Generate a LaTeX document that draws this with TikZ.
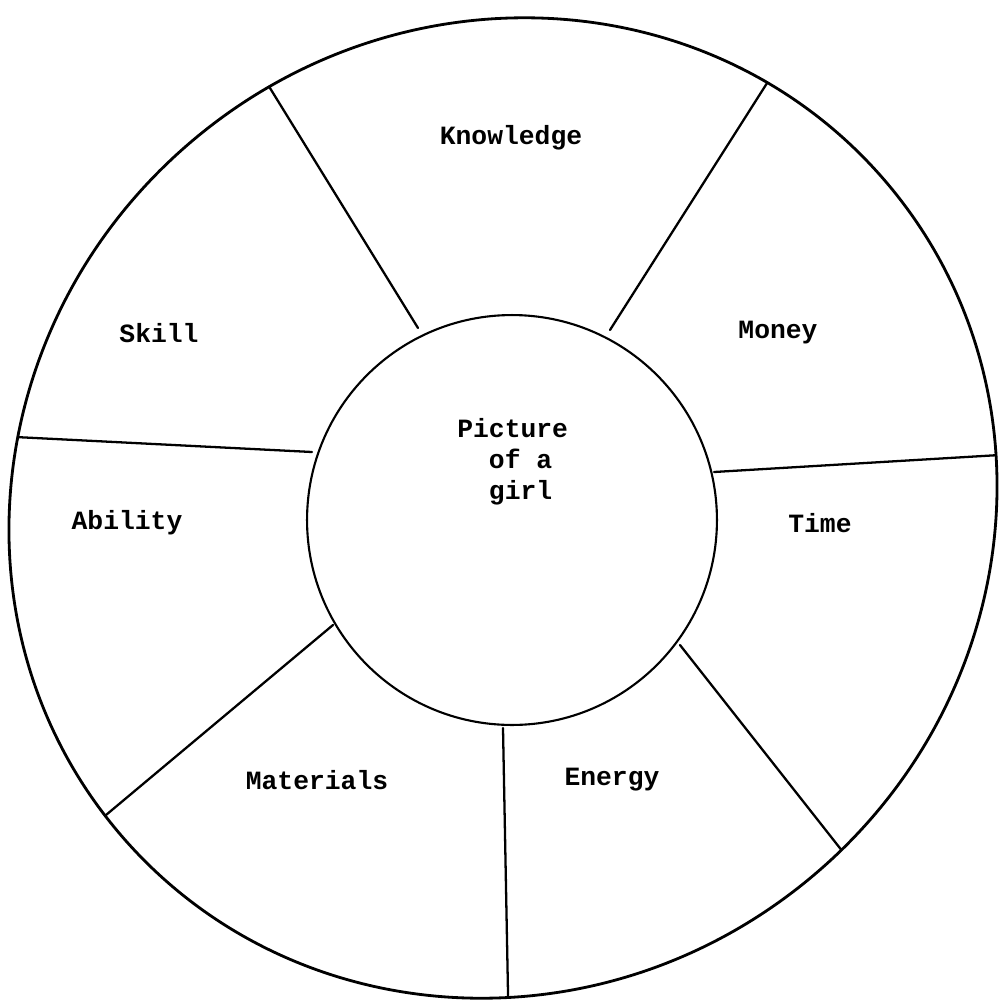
\documentclass[tikz,border=0pt]{standalone}
\usepackage{fontspec}
\setmonofont{Liberation Mono}
\usetikzlibrary{calc,intersections}
\begin{document}
\begin{tikzpicture}[x=0.02cm,y=-0.02cm,
  lab/.style={font=\ttfamily\bfseries\fontsize{15}{17.6}\selectfont, inner sep=0pt},
  spoke/.style={line width=1.3pt, line cap=round},
  rim/.style={line width=1.6pt}]
\useasboundingbox (0,0) rectangle (1000,1002);
% outer wheel (slightly oval, tilted)
\coordinate (oc) at (503,508);
\draw[rim, name path=rimp, rotate around={40:(oc)}] (oc) ellipse [x radius=503, y radius=481];
% hub
\node[circle, draw, line width=1.2pt, minimum size=8.2cm, inner sep=0pt] (hub) at (512,520) {};
% spoke directions
\coordinate (i1) at (418,328); \coordinate (d1) at (270,88);
\coordinate (i2) at (610,330); \coordinate (d2) at (769,80);
\coordinate (i3) at (714,472); \coordinate (d3) at (1000,455);
\coordinate (i4) at (680,645); \coordinate (d4) at (843,852);
\coordinate (i5) at (503,728); \coordinate (d5) at (508,994);
\coordinate (i6) at (333,625); \coordinate (d6) at (106,815);
\coordinate (i7) at (312,452); \coordinate (d7) at (15,437);
\foreach \k in {1,...,7} {
  \path[name path=s\k] (i\k) -- ($(i\k)!1.3!(d\k)$);
  \path[name intersections={of=rimp and s\k, by={o\k}}];
  \draw[spoke] (i\k) -- (o\k);
}
% labels
\node[lab] (know) at (511,138) {Knowledge};
\node[lab] (money) at (778,333) {Money};
\node[lab] (skill) at (159,333) {Skill};
\node[lab, align=left, anchor=north west] (pic) at (457,418) {Picture\\\phantom{Pi}of a\\\phantom{Pi}girl};
\node[lab] (abil) at (127,523) {Ability};
\node[lab] (time) at (820,523) {Time};
\node[lab] (mat) at (317,780) {Materials};
\node[lab] (energy) at (612,780) {Energy};
\end{tikzpicture}
\end{document}
